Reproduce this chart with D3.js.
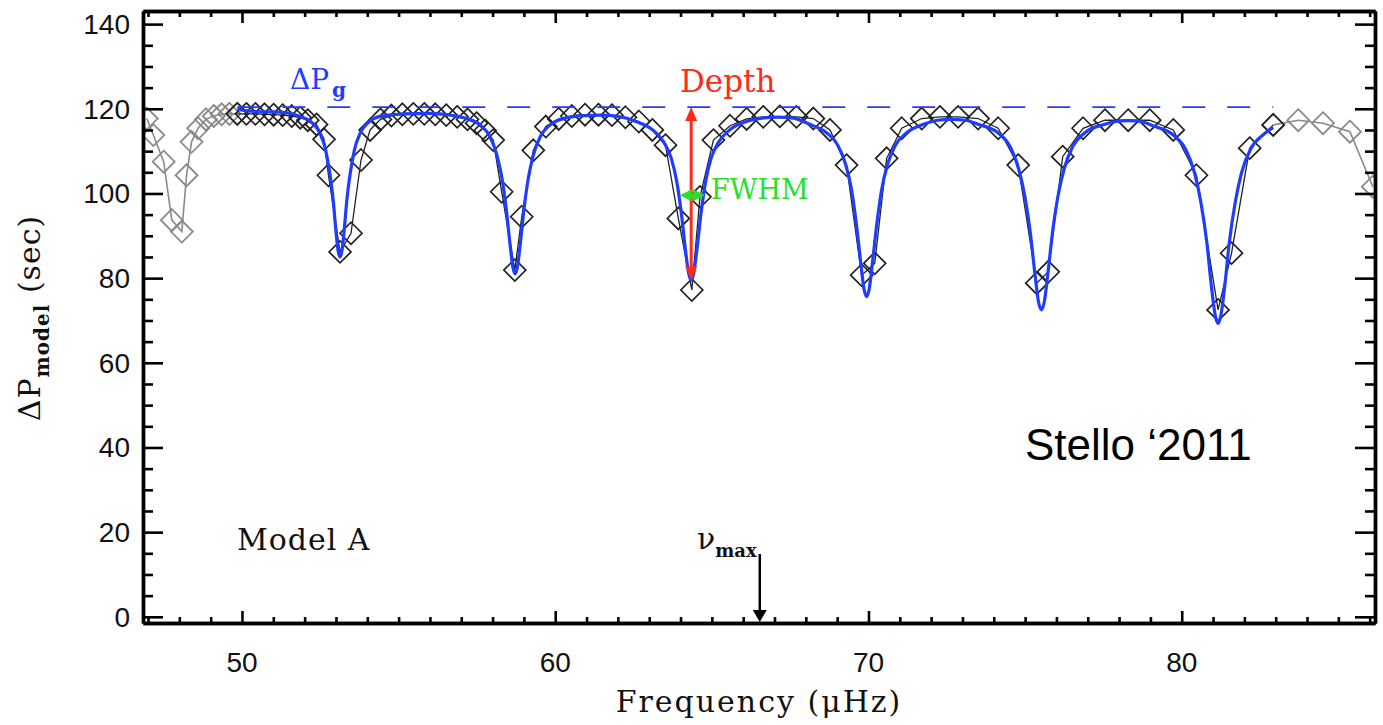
<!DOCTYPE html>
<html>
<head>
<meta charset="utf-8">
<script src="https://cdn.jsdelivr.net/npm/d3@7"></script>
<style>
  html, body { margin: 0; padding: 0; background: #fff; }
  svg { display: block; }
</style>
</head>
<body>
<svg id="chart" width="1383" height="725"></svg>
<script>
// Period spacing of consecutive mixed modes in model A, against frequency.

// Modes inside the fitted range (black diamonds)
const fitFreq = [49.85, 50.14, 50.43, 50.72, 51.01, 51.30, 51.59, 51.86, 52.10, 52.38, 52.62, 52.76,
  53.13, 53.48, 53.80, 54.09, 54.42, 54.77, 55.12, 55.47, 55.82, 56.17, 56.52, 56.87, 57.20, 57.49,
  57.76, 58.02, 58.29, 58.71, 58.93, 59.30, 59.70, 60.11, 60.53, 60.95, 61.38, 61.81, 62.24, 62.67,
  63.10, 63.52, 63.93, 64.36, 64.62, 65.05, 65.58, 66.11, 66.64, 67.17, 67.70, 68.24, 68.77, 69.30,
  69.78, 70.20, 70.58, 71.06, 71.70, 72.28, 72.86, 73.50, 74.14, 74.78, 75.37, 75.74, 76.20, 76.85,
  77.55, 78.29, 78.98, 79.73, 80.47, 81.16, 81.59, 82.17, 82.92];
const fitDP = [118.8, 118.8, 118.8, 118.7, 118.6, 118.5, 118.3, 117.9, 117.3, 116.3, 112.8, 104.3,
  86.2, 90.6, 107.9, 115.0, 117.5, 118.4, 118.7, 118.8, 118.8, 118.7, 118.5, 118.1, 117.5, 116.6,
  114.9, 112.6, 100.4, 81.9, 94.5, 110.2, 115.8, 117.6, 118.3, 118.6, 118.6, 118.5, 118.0, 117.0,
  115.0, 111.4, 94.1, 77.2, 99.2, 112.6, 116.0, 117.6, 118.1, 118.2, 118.1, 117.7, 115.0, 106.7,
  80.7, 83.5, 108.3, 115.4, 117.7, 118.1, 118.1, 117.7, 115.4, 106.7, 78.8, 81.5, 108.7, 115.4,
  117.3, 117.3, 117.3, 115.0, 104.3, 72.5, 85.9, 110.7, 116.2];

// Modes outside the fitted range (grey diamonds)
const lowFreq = [46.96, 47.17, 47.50, 47.76, 48.08, 48.23, 48.39, 48.60, 48.85, 49.10, 49.35, 49.60, 49.85];
const lowDP = [117.7, 113.8, 107.5, 93.7, 91.0, 104.3, 112.2, 115.4, 117.5, 118.3, 118.7, 118.8, 118.8];
const highFreq = [82.92, 83.72, 84.51, 85.37, 86.10];
const highDP = [116.2, 117.3, 116.6, 114.6, 101.6];

// Fitted model (blue curve)
const modelFreq = [49.85, 50.15, 50.60, 51.20, 51.85, 52.25, 52.49, 52.67, 52.79, 52.91, 53.00, 53.07,
  53.13, 53.19, 53.26, 53.35, 53.47, 53.59, 53.77, 54.01, 54.41, 55.20, 55.92, 56.60, 57.12, 57.62,
  57.92, 58.14, 58.30, 58.44, 58.56, 58.65, 58.72, 58.79, 58.88, 59.00, 59.14, 59.30, 59.52, 59.82,
  60.32, 60.90, 61.45, 62.00, 62.58, 63.13, 63.46, 63.70, 63.88, 64.03, 64.16, 64.26, 64.34, 64.42,
  64.52, 64.65, 64.80, 64.98, 65.22, 65.55, 66.10, 66.60, 67.10, 67.60, 68.10, 68.67, 69.02, 69.27,
  69.46, 69.62, 69.76, 69.86, 69.94, 70.02, 70.12, 70.26, 70.42, 70.61, 70.86, 71.21, 71.78, 72.20,
  72.65, 73.10, 73.52, 74.14, 74.52, 74.79, 74.99, 75.17, 75.32, 75.43, 75.52, 75.61, 75.72, 75.87,
  76.05, 76.25, 76.52, 76.90, 77.52, 77.90, 78.30, 78.70, 79.08, 79.73, 80.12, 80.41, 80.61, 80.80,
  80.95, 81.07, 81.16, 81.25, 81.37, 81.52, 81.71, 81.91, 82.20, 82.59, 82.92];
const modelDP = [119.9, 119.5, 119.3, 119.2, 118.2, 116.6, 114.2, 110.3, 105.4, 98.6, 91.1, 86.4,
  85.0, 86.4, 91.1, 98.6, 105.4, 110.3, 114.2, 116.6, 118.2, 118.8, 118.9, 118.6, 117.8, 116.1,
  113.4, 109.0, 103.6, 96.1, 87.8, 82.5, 81.0, 82.5, 87.8, 96.1, 103.6, 109.0, 113.4, 116.1,
  117.8, 118.4, 118.5, 118.2, 117.0, 114.9, 112.2, 108.4, 102.8, 95.1, 86.5, 81.1, 79.5, 81.1,
  86.5, 95.1, 102.8, 108.4, 112.2, 114.9, 117.0, 117.8, 118.0, 117.8, 116.4, 114.3, 111.4, 106.9,
  100.9, 92.4, 83.2, 77.3, 75.6, 77.3, 83.2, 92.4, 100.9, 106.9, 111.4, 114.3, 116.4, 117.3,
  117.5, 117.3, 116.3, 114.3, 111.1, 105.9, 99.4, 90.5, 80.6, 74.3, 72.5, 74.3, 80.6, 90.5,
  99.4, 105.9, 111.1, 114.3, 116.3, 117.0, 117.2, 117.0, 116.0, 113.8, 110.5, 104.9, 98.0, 88.5,
  77.9, 71.2, 69.3, 71.2, 77.9, 88.5, 98.0, 104.9, 110.5, 113.8, 115.6];

// Asymptotic period spacing and the annotated dip
const deltaPg = 120.4;
const deltaPgRange = [49.85, 82.92];
const depthFreq = 64.34;
const depthRange = [120.4, 79.5];
const fwhmRange = [63.98, 64.78];
const fwhmLevel = 99.6;
const numax = 66.53;

// Axis ticks
const xMajorTicks = [50, 60, 70, 80];
const yMajorTicks = [0, 20, 40, 60, 80, 100, 120, 140];

const svg = d3.select("#chart");
const W = 1383, H = 725;
const plot = { left: 143, right: 1375, top: 11, bottom: 623 };

const x = d3.scaleLinear().domain([46.84, 86.17]).range([plot.left, plot.right]);
const y = d3.scaleLinear().domain([-1.46, 143.1]).range([plot.bottom, plot.top]);

const xMinorTicks = x.ticks(40).filter(v => !xMajorTicks.includes(v));
const yMinorTicks = d3.range(0, 141, 5).filter(v => !yMajorTicks.includes(v));

const serif = "'DejaVu Serif', 'Liberation Serif', serif";
const sans = "'Liberation Sans', Arial, Helvetica, sans-serif";

svg.append("rect").attr("width", W).attr("height", H).attr("fill", "#fff");

const defs = svg.append("defs");
defs.append("clipPath").attr("id", "plotClip")
  .append("rect")
  .attr("x", plot.left).attr("y", plot.top)
  .attr("width", plot.right - plot.left).attr("height", plot.bottom - plot.top);

const zip = (fs, vs) => fs.map((f, i) => ({ f, v: vs[i] }));
const fitPts = zip(fitFreq, fitDP);
const lowPts = zip(lowFreq, lowDP);
const highPts = zip(highFreq, highDP);
const modelPts = zip(modelFreq, modelDP);

const line = d3.line().x(d => x(d.f)).y(d => y(d.v));
const diamond = r => `M0,${-r}L${r},0L0,${r}L${-r},0Z`;
const R = 11;

const g = svg.append("g").attr("clip-path", "url(#plotClip)");

// grey modes outside the fit
[lowPts, highPts].forEach(pts => {
  g.append("path").datum(pts).attr("d", line)
    .attr("fill", "none").attr("stroke", "#8a8a8a").attr("stroke-width", 1.6);
  g.selectAll(null).data(pts).enter().append("path")
    .attr("d", diamond(R))
    .attr("transform", d => `translate(${x(d.f)},${y(d.v)})`)
    .attr("fill", "none").attr("stroke", "#8a8a8a").attr("stroke-width", 1.8);
});

// black modes inside the fit
g.append("path").datum(fitPts).attr("d", line)
  .attr("fill", "none").attr("stroke", "#222").attr("stroke-width", 1.3);
g.selectAll(null).data(fitPts).enter().append("path")
  .attr("d", diamond(R))
  .attr("transform", d => `translate(${x(d.f)},${y(d.v)})`)
  .attr("fill", "none").attr("stroke", "#222").attr("stroke-width", 1.7);

const blue = "#1f3cff";

// asymptotic period spacing
g.append("line")
  .attr("x1", x(deltaPgRange[0])).attr("x2", x(deltaPgRange[1]))
  .attr("y1", y(deltaPg)).attr("y2", y(deltaPg))
  .attr("stroke", blue).attr("stroke-width", 1.8).attr("stroke-dasharray", "23,22");

// fitted model
g.append("path").datum(modelPts)
  .attr("d", line.curve(d3.curveMonotoneX))
  .attr("fill", "none").attr("stroke", blue).attr("stroke-width", 3.2)
  .attr("stroke-linejoin", "round");

// depth arrow (red, double headed)
const red = "#ff2a1a";
const dx = x(depthFreq);
const yTop = y(depthRange[0]), yBot = y(depthRange[1]);
svg.append("line").attr("x1", dx).attr("x2", dx).attr("y1", yTop + 10).attr("y2", yBot - 10)
  .attr("stroke", red).attr("stroke-width", 3);
svg.append("path").attr("d", `M${dx},${yTop}L${dx + 6},${yTop + 14}L${dx - 6},${yTop + 14}Z`).attr("fill", red);
svg.append("path").attr("d", `M${dx},${yBot}L${dx + 6},${yBot - 14}L${dx - 6},${yBot - 14}Z`).attr("fill", red);

// FWHM arrow (green, double headed)
const green = "#27e027";
const fy = y(fwhmLevel), fx1 = x(fwhmRange[0]), fx2 = x(fwhmRange[1]);
svg.append("line").attr("x1", fx1 + 8).attr("x2", fx2 - 8).attr("y1", fy).attr("y2", fy)
  .attr("stroke", green).attr("stroke-width", 3.5);
svg.append("path").attr("d", `M${fx1},${fy}L${fx1 + 12},${fy - 6}L${fx1 + 12},${fy + 6}Z`).attr("fill", green);
svg.append("path").attr("d", `M${fx2},${fy}L${fx2 - 12},${fy - 6}L${fx2 - 12},${fy + 6}Z`).attr("fill", green);

// nu_max arrow
const nx = x(numax);
svg.append("line").attr("x1", nx).attr("x2", nx).attr("y1", 554).attr("y2", plot.bottom - 10)
  .attr("stroke", "#000").attr("stroke-width", 2.5);
svg.append("path").attr("d", `M${nx},${plot.bottom - 1}L${nx + 7},${plot.bottom - 13}L${nx - 7},${plot.bottom - 13}Z`).attr("fill", "#000");

// axes: frame with inward major and minor ticks on all four sides
function drawAxis(axisGen, tx, ty) {
  const a = svg.append("g").attr("transform", `translate(${tx},${ty})`).call(axisGen);
  a.selectAll("text").remove();
  a.selectAll(".tick line").attr("stroke", "#000").attr("stroke-width", 2.6);
  a.select(".domain").attr("stroke", "#000").attr("stroke-width", 3.4);
  return a;
}
drawAxis(d3.axisBottom(x).tickValues(xMajorTicks).tickSize(-12).tickSizeOuter(0), 0, plot.bottom);
drawAxis(d3.axisBottom(x).tickValues(xMinorTicks).tickSize(-6).tickSizeOuter(0), 0, plot.bottom);
drawAxis(d3.axisTop(x).tickValues(xMajorTicks).tickSize(-12).tickSizeOuter(0), 0, plot.top);
drawAxis(d3.axisTop(x).tickValues(xMinorTicks).tickSize(-6).tickSizeOuter(0), 0, plot.top);
drawAxis(d3.axisLeft(y).tickValues(yMajorTicks).tickSize(-20).tickSizeOuter(0), plot.left, 0);
drawAxis(d3.axisLeft(y).tickValues(yMinorTicks).tickSize(-10).tickSizeOuter(0), plot.left, 0);
drawAxis(d3.axisRight(y).tickValues(yMajorTicks).tickSize(-20).tickSizeOuter(0), plot.right, 0);
drawAxis(d3.axisRight(y).tickValues(yMinorTicks).tickSize(-10).tickSizeOuter(0), plot.right, 0);

// tick labels
svg.append("g").selectAll("text").data(xMajorTicks).enter().append("text")
  .attr("x", d => x(d)).attr("y", 672)
  .attr("text-anchor", "middle")
  .attr("font-family", sans).attr("font-size", 28).attr("fill", "#111")
  .text(d => d);
svg.append("g").selectAll("text").data(yMajorTicks).enter().append("text")
  .attr("x", 130).attr("y", d => y(d) + 10)
  .attr("text-anchor", "end")
  .attr("font-family", sans).attr("font-size", 28).attr("fill", "#111")
  .text(d => d);

// axis titles
svg.append("text")
  .attr("x", (plot.left + plot.right) / 2).attr("y", 712)
  .attr("text-anchor", "middle")
  .attr("font-family", serif).attr("font-size", 30).attr("fill", "#111")
  .attr("letter-spacing", 2)
  .text("Frequency (\u03BCHz)");

const yt = svg.append("text")
  .attr("transform", "translate(40,318) rotate(-90)")
  .attr("text-anchor", "middle")
  .attr("font-family", serif).attr("font-size", 30).attr("fill", "#111")
  .attr("letter-spacing", 1);
yt.append("tspan").text("\u0394P");
yt.append("tspan").attr("dy", 9).attr("font-size", 20).attr("font-weight", "bold").text("model");
yt.append("tspan").attr("dy", -9).text(" (sec)");

// annotations
const pg = svg.append("text")
  .attr("x", 290).attr("y", 89)
  .attr("font-family", serif).attr("font-size", 28).attr("fill", blue);
pg.append("tspan").text("\u0394P");
pg.append("tspan").attr("dx", 3).attr("dy", 8).attr("font-size", 20).attr("font-weight", "bold").text("g");

svg.append("text")
  .attr("x", 680).attr("y", 92)
  .attr("font-family", serif).attr("font-size", 31).attr("fill", red)
  .text("Depth");

svg.append("text")
  .attr("x", 711).attr("y", 199)
  .attr("font-family", serif).attr("font-size", 27).attr("fill", green)
  .text("FWHM");

const nu = svg.append("text")
  .attr("x", 697).attr("y", 549)
  .attr("font-family", serif).attr("font-size", 30).attr("fill", "#111");
nu.append("tspan").text("\u03BD");
nu.append("tspan").attr("dy", 8).attr("font-size", 18).attr("font-weight", "bold").text("max");

svg.append("text")
  .attr("x", 237).attr("y", 550)
  .attr("font-family", serif).attr("font-size", 30).attr("fill", "#111")
  .attr("letter-spacing", 1)
  .text("Model A");

svg.append("text")
  .attr("x", 1025).attr("y", 460)
  .attr("font-family", sans).attr("font-size", 44).attr("fill", "#000")
  .text("Stello \u20182011");
</script>
</body>
</html>
